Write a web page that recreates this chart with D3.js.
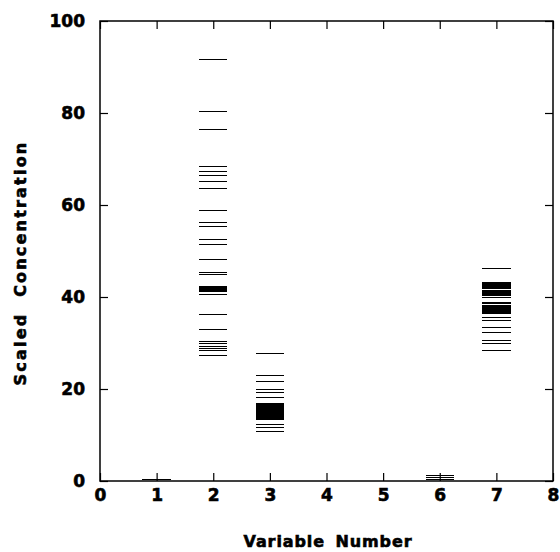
<!DOCTYPE html>
<html lang="en">
<head>
    <meta charset="UTF-8">
    <title>Scaled Concentration by Variable</title>
    <script src="https://d3js.org/d3.v7.min.js"></script>
    <style>
        body { margin: 0; background: #fff; }
        svg text {
            font-family: "DejaVu Sans", "Liberation Sans", Arial, sans-serif;
            font-weight: bold;
            fill: #000;
            stroke: #000;
            stroke-width: 0.6px;
        }
        .dash { stroke: #000; stroke-width: 1px; shape-rendering: crispEdges; }
        .frame { fill: none; stroke: #000; stroke-width: 1.5px; }
        .tick line { stroke: #000; stroke-width: 1.2px; }
    </style>
</head>
<body>
    <svg width="560" height="552"></svg>
    <script>
        // one list of observed values per variable
        const var1 = [0.4];
        const var2 = [91.7, 80.4, 76.6, 68.5, 67.4, 66.6, 65.2, 63.7, 59.0, 56.2, 55.4,
            52.6, 51.6, 48.3, 45.5, 45.0, 42.5, 42.3, 42.1, 41.9, 41.7, 41.5, 41.3, 40.7,
            36.4, 33.0, 30.5, 30.0, 29.3, 28.9, 28.5, 27.4];
        const var3 = [27.8, 23.0, 21.8, 20.0, 19.4, 18.3, 17.0, 16.8, 16.6, 16.4, 16.2,
            16.0, 15.8, 15.6, 15.4, 15.2, 15.0, 14.8, 14.6, 14.4, 14.2, 14.0, 13.8,
            13.6, 13.4, 12.5, 11.7, 10.9];
        const var6 = [1.4, 0.9, 0.4];
        const var7 = [46.3, 43.3, 43.1, 42.9, 42.6, 42.4, 42.2, 41.9, 41.6, 41.4, 41.1,
            40.8, 40.6, 40.4, 40.0, 39.0, 38.8, 38.6, 38.3, 38.1, 37.9, 37.6, 37.4,
            37.2, 36.9, 36.7, 36.5, 35.7, 35.0, 33.5, 32.5, 30.7, 29.9, 28.5];

        const variables = [1, 2, 3, 6, 7];
        const valueLists = [var1, var2, var3, var6, var7];
        const xTicks = [0, 1, 2, 3, 4, 5, 6, 7, 8];
        const yTicks = [0, 20, 40, 60, 80, 100];

        const dashes = [];
        variables.forEach((v, i) => valueLists[i].forEach(val => dashes.push({ v: v, val: val })));

        const svg = d3.select("svg");
        const margin = { left: 100, right: 7, top: 21, bottom: 71 };
        const width = 560 - margin.left - margin.right,
            height = 552 - margin.top - margin.bottom;

        const x = d3.scaleLinear().domain([0, 8]).range([0, width]);
        const y = d3.scaleLinear().domain([0, 100]).range([height, 0]);
        const halfW = 0.25;

        const g = svg.append("g")
            .attr("transform", `translate(${margin.left},${margin.top})`);

        // inward ticks on all four sides
        const tickLen = 8;
        g.append("g").attr("transform", `translate(0,${height})`)
            .call(d3.axisBottom(x).tickValues(xTicks).tickSizeInner(-tickLen).tickSizeOuter(0).tickPadding(8))
            .call(a => a.select(".domain").remove())
            .call(a => a.selectAll("text").style("font-size", "17px"));
        g.append("g")
            .call(d3.axisTop(x).tickValues(xTicks).tickSizeInner(-tickLen).tickSizeOuter(0).tickFormat(""))
            .call(a => a.select(".domain").remove());
        g.append("g")
            .call(d3.axisLeft(y).tickValues(yTicks).tickSizeInner(-tickLen).tickSizeOuter(0).tickPadding(15))
            .call(a => a.select(".domain").remove())
            .call(a => a.selectAll("text").style("font-size", "17px"));
        g.append("g").attr("transform", `translate(${width},0)`)
            .call(d3.axisRight(y).tickValues(yTicks).tickSizeInner(-tickLen).tickSizeOuter(0).tickFormat(""))
            .call(a => a.select(".domain").remove());

        g.append("rect").attr("class", "frame")
            .attr("x", 0).attr("y", 0).attr("width", width).attr("height", height);

        g.append("g").selectAll("line")
            .data(dashes)
            .enter().append("line")
            .attr("class", "dash")
            .attr("x1", d => x(d.v - halfW))
            .attr("x2", d => x(d.v + halfW))
            .attr("y1", d => Math.round(y(d.val)) + 0.5)
            .attr("y2", d => Math.round(y(d.val)) + 0.5);

        svg.append("text")
            .attr("x", 328)
            .attr("y", 547)
            .attr("text-anchor", "middle")
            .style("font-size", "16px")
            .style("letter-spacing", "0.9px")
            .style("word-spacing", "4px")
            .text("Variable Number");

        svg.append("text")
            .attr("transform", "translate(26,263) rotate(-90)")
            .attr("text-anchor", "middle")
            .style("font-size", "16px")
            .style("letter-spacing", "2.2px")
            .style("word-spacing", "8px")
            .text("Scaled Concentration");
    </script>
</body>
</html>
